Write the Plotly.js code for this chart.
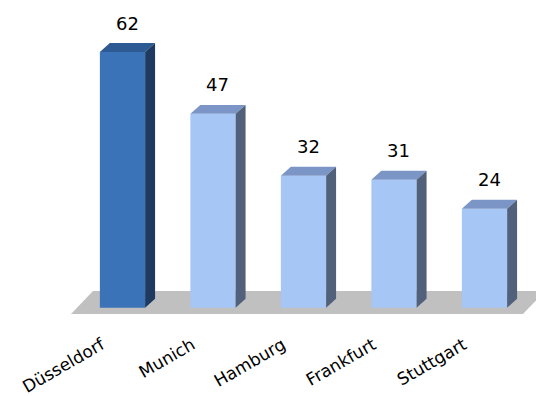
<!DOCTYPE html>
<html><head><meta charset="utf-8">
<script src="https://cdn.plot.ly/plotly-3.0.1.min.js"></script>
<style>html,body{margin:0;padding:0;background:#fff}</style>
</head><body><div id="chart" style="width:536px;height:396px"></div>
<script>
// ---- data ----
const categories = ["Düsseldorf", "Munich", "Hamburg", "Frankfurt", "Stuttgart"];
const values = [62, 47, 32, 31, 24];
const valueLabels = ["62", "47", "32", "31", "24"];
const highlighted = [true, false, false, false, false];

// ---- styling / 3D geometry (in axis units) ----
const barWidth = 0.5;
const depthX = 0.11;
const depthY = 2.18;
const colors = {
  hi:  {front: "#3B73B8", top: "#2E5A93", side: "#1F3A60"},
  lo:  {front: "#A6C6F5", top: "#7B96C6", side: "#52617B"}
};

const idx = categories.map((_, i) => i);
const traces = [];

// front faces
traces.push({
  type: "bar", x: idx, y: values, base: 0, width: barWidth,
  marker: {color: idx.map(i => highlighted[i] ? colors.hi.front : colors.lo.front), line: {width: 0}},
  hoverinfo: "skip", showlegend: false
});

// top and side faces
idx.forEach(i => {
  const v = values[i];
  const c = highlighted[i] ? colors.hi : colors.lo;
  const l = i - barWidth / 2, r = i + barWidth / 2;
  traces.push({
    type: "scatter", mode: "lines", fill: "toself", fillcolor: c.top,
    x: [l, r, r + depthX, l + depthX, l], y: [v, v, v + depthY, v + depthY, v],
    line: {width: 0, color: c.top}, hoverinfo: "skip", showlegend: false
  });
  traces.push({
    type: "scatter", mode: "lines", fill: "toself", fillcolor: c.side,
    x: [r, r, r + depthX, r + depthX, r], y: [0, v, v + depthY, depthY, 0],
    line: {width: 0, color: c.side}, hoverinfo: "skip", showlegend: false
  });
});

// floor (drawn below everything)
const n = categories.length;
const floorFront = -1.53, floorBack = 4.05;
const fl = -0.569, flBack = -0.326, fr = n - 1 + 0.425, frBack = n - 1 + 0.67;
const floorPath = `M ${fl} ${floorFront} L ${fr} ${floorFront} L ${frBack} ${floorBack} L ${flBack} ${floorBack} Z`;

const annotations = idx.map(i => ({
  x: i + depthX / 2, y: values[i] + depthY, xref: "x", yref: "y",
  text: valueLabels[i], showarrow: false, yanchor: "middle", xanchor: "center",
  yshift: 20, font: {family: "DejaVu Sans", size: 18, color: "#000"}
}));

const layout = {
  width: 536, height: 396,
  margin: {l: 0, r: 0, t: 0, b: 76},
  paper_bgcolor: "#fff", plot_bgcolor: "#fff",
  showlegend: false,
  xaxis: {
    range: [-1.3536, 4.569], tickmode: "array", tickvals: idx, ticktext: categories,
    tickangle: -30, showgrid: false, zeroline: false, showline: false, ticks: "",
    ticklabelshift: -21, ticklabelstandoff: 11,
    tickfont: {family: "DejaVu Sans", size: 17, color: "#000"}, fixedrange: true
  },
  yaxis: {
    range: [-2.98, 74.61], showgrid: false, zeroline: false, showline: false,
    showticklabels: false, ticks: "", fixedrange: true
  },
  shapes: [{type: "path", path: floorPath, xref: "x", yref: "y", fillcolor: "#C0C0C0", line: {width: 0}, layer: "below"}],
  annotations: annotations
};

Plotly.newPlot("chart", traces, layout, {displayModeBar: false, staticPlot: true});
</script>
</body></html>
